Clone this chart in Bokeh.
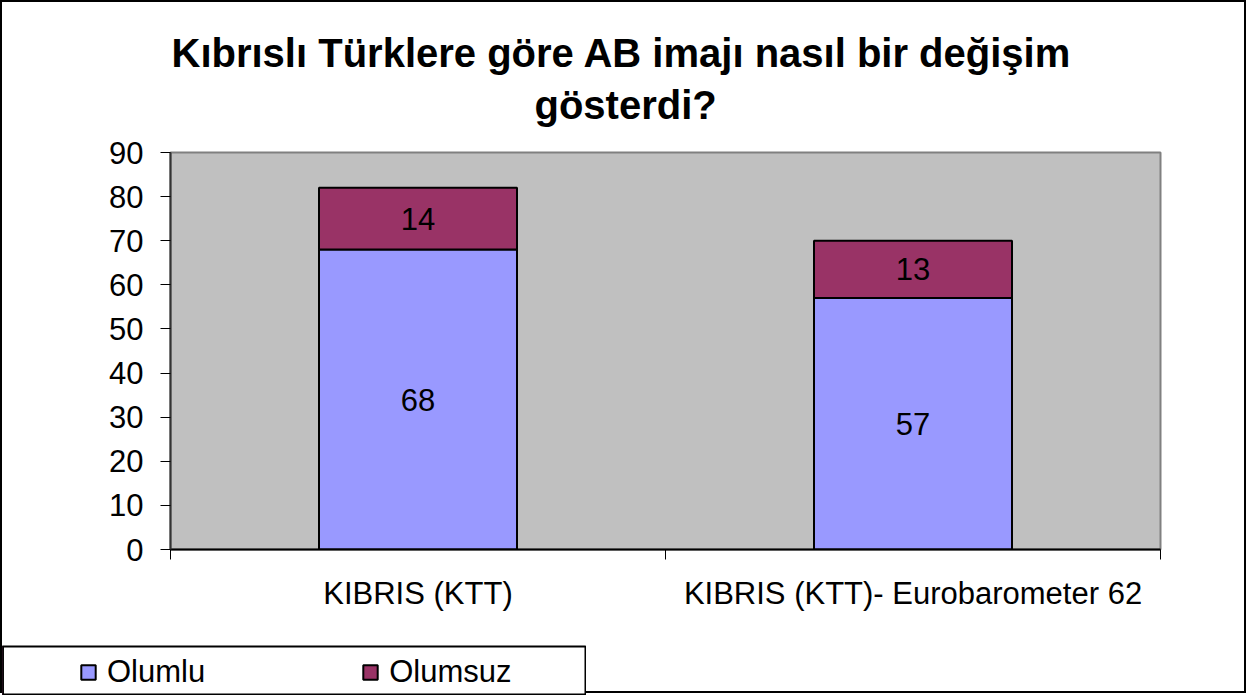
from bokeh.plotting import figure
from bokeh.models import (FixedTicker, Legend, LegendItem, Title, Range1d, ColumnDataSource)
from bokeh.core.properties import value
from bokeh.embed import file_html
from bokeh.resources import INLINE

# ---- data ----
categories = ["KIBRIS (KTT)", "KIBRIS (KTT)- Eurobarometer 62"]
olumlu = [68, 57]
olumsuz = [14, 13]
series_names = ["Olumlu", "Olumsuz"]
series_colors = ["#9999FF", "#993366"]
y_ticks = [0, 10, 20, 30, 40, 50, 60, 70, 80, 90]
title_lines = ["Kıbrıslı Türklere göre AB imajı nasıl bir değişim", "gösterdi?"]

FONT = "Liberation Sans"

xs = [i + 0.5 for i in range(len(categories))]
tops = [a + b for a, b in zip(olumlu, olumsuz)]

p = figure(width=1246, height=693, output_backend="svg", toolbar_location=None,
           x_range=Range1d(0, len(categories)), y_range=Range1d(0, 90),
           min_border_left=168, min_border_right=88, min_border_top=150,
           min_border_bottom=146)
p.styles = {"border": "2px solid black"}

p.background_fill_color = "#C0C0C0"
p.border_fill_color = "white"
p.outline_line_color = "#808080"
p.outline_line_width = 2
p.xgrid.visible = False
p.ygrid.visible = False

src = ColumnDataSource(dict(x=xs, olumlu=olumlu, olumsuz=olumsuz, top=tops,
                            mid1=[v / 2 for v in olumlu],
                            mid2=[a + b / 2 for a, b in zip(olumlu, olumsuz)],
                            lab1=[str(v) for v in olumlu],
                            lab2=[str(v) for v in olumsuz]))

r1 = p.vbar(x="x", bottom=0, top="olumlu", width=0.4, source=src,
            fill_color=series_colors[0], line_color="black", line_width=2)
r2 = p.vbar(x="x", bottom="olumlu", top="top", width=0.4, source=src,
            fill_color=series_colors[1], line_color="black", line_width=2)

p.text(x="x", y="mid1", text="lab1", source=src, text_align="center",
       text_baseline="middle", text_font=value(FONT), text_font_size="31px",
       text_color="black")
p.text(x="x", y="mid2", text="lab2", source=src, text_align="center",
       text_baseline="middle", text_font=value(FONT), text_font_size="31px",
       text_color="black")

# y axis
yax = p.yaxis[0]
yax.ticker = FixedTicker(ticks=y_ticks)
yax.major_tick_out = 10
yax.major_tick_in = 0
yax.minor_tick_out = 0
yax.minor_tick_in = 0
yax.major_tick_line_color = "black"
yax.axis_line_color = "#333333"
yax.axis_line_width = 2
yax.major_label_text_font = FONT
yax.major_label_text_font_size = "31px"
yax.major_label_text_color = "black"
yax.major_label_standoff = 17

# x axis
xax = p.xaxis[0]
xax.ticker = FixedTicker(ticks=xs, minor_ticks=list(range(len(categories) + 1)))
xax.major_label_overrides = {x: c for x, c in zip(xs, categories)}
xax.major_tick_out = 0
xax.major_tick_in = 0
xax.minor_tick_out = 10
xax.minor_tick_in = 0
xax.minor_tick_line_color = "black"
xax.axis_line_color = "black"
xax.axis_line_width = 2
xax.major_label_text_font = FONT
xax.major_label_text_font_size = "31px"
xax.major_label_text_color = "black"
xax.major_label_standoff = 16

# title (two lines, stacked above the frame; a tiny spacer keeps the gap)
spacer = Title(text=" ", text_font_size="1px", standoff=19)
t2 = Title(text=title_lines[1], align="left", offset=364, standoff=8,
           text_font=FONT, text_font_size="40px", text_font_style="bold",
           text_color="black")
t1 = Title(text=title_lines[0], align="left", offset=1, standoff=4,
           text_font=FONT, text_font_size="40px", text_font_style="bold",
           text_color="black")
p.add_layout(spacer, "above")
p.add_layout(t2, "above")
p.add_layout(t1, "above")

# legend strip at the bottom-left corner (overlaid on the chart)
pl = figure(width=584, height=50, output_backend="svg", toolbar_location=None,
            x_range=Range1d(10, 11), y_range=Range1d(0, 1),
            x_axis_type=None, y_axis_type=None,
            min_border_left=0, min_border_right=1, min_border_top=1, min_border_bottom=0)
pl.styles = {"position": "absolute", "left": "2px", "top": "645px"}
pl.xgrid.visible = False
pl.ygrid.visible = False
pl.background_fill_color = "white"
pl.border_fill_color = "white"
pl.outline_line_color = "black"
pl.outline_line_width = 2

lr = [pl.vbar(x="x", top=col, width=0.4, source=src, fill_color=c,
              line_color="black", line_width=2)
      for c, col in zip(series_colors, ["olumlu", "olumsuz"])]
legend = Legend(items=[LegendItem(label=n, renderers=[r]) for n, r in zip(series_names, lr)],
                orientation="horizontal", location=(77, 5),
                padding=0, margin=0, spacing=156, label_standoff=10,
                glyph_width=18, glyph_height=18, label_height=32,
                label_text_font=FONT, label_text_font_size="31px",
                label_text_color="black", border_line_alpha=0,
                background_fill_alpha=0)
pl.add_layout(legend, "center")

open("out.html", "w").write(file_html([p, pl], INLINE))
